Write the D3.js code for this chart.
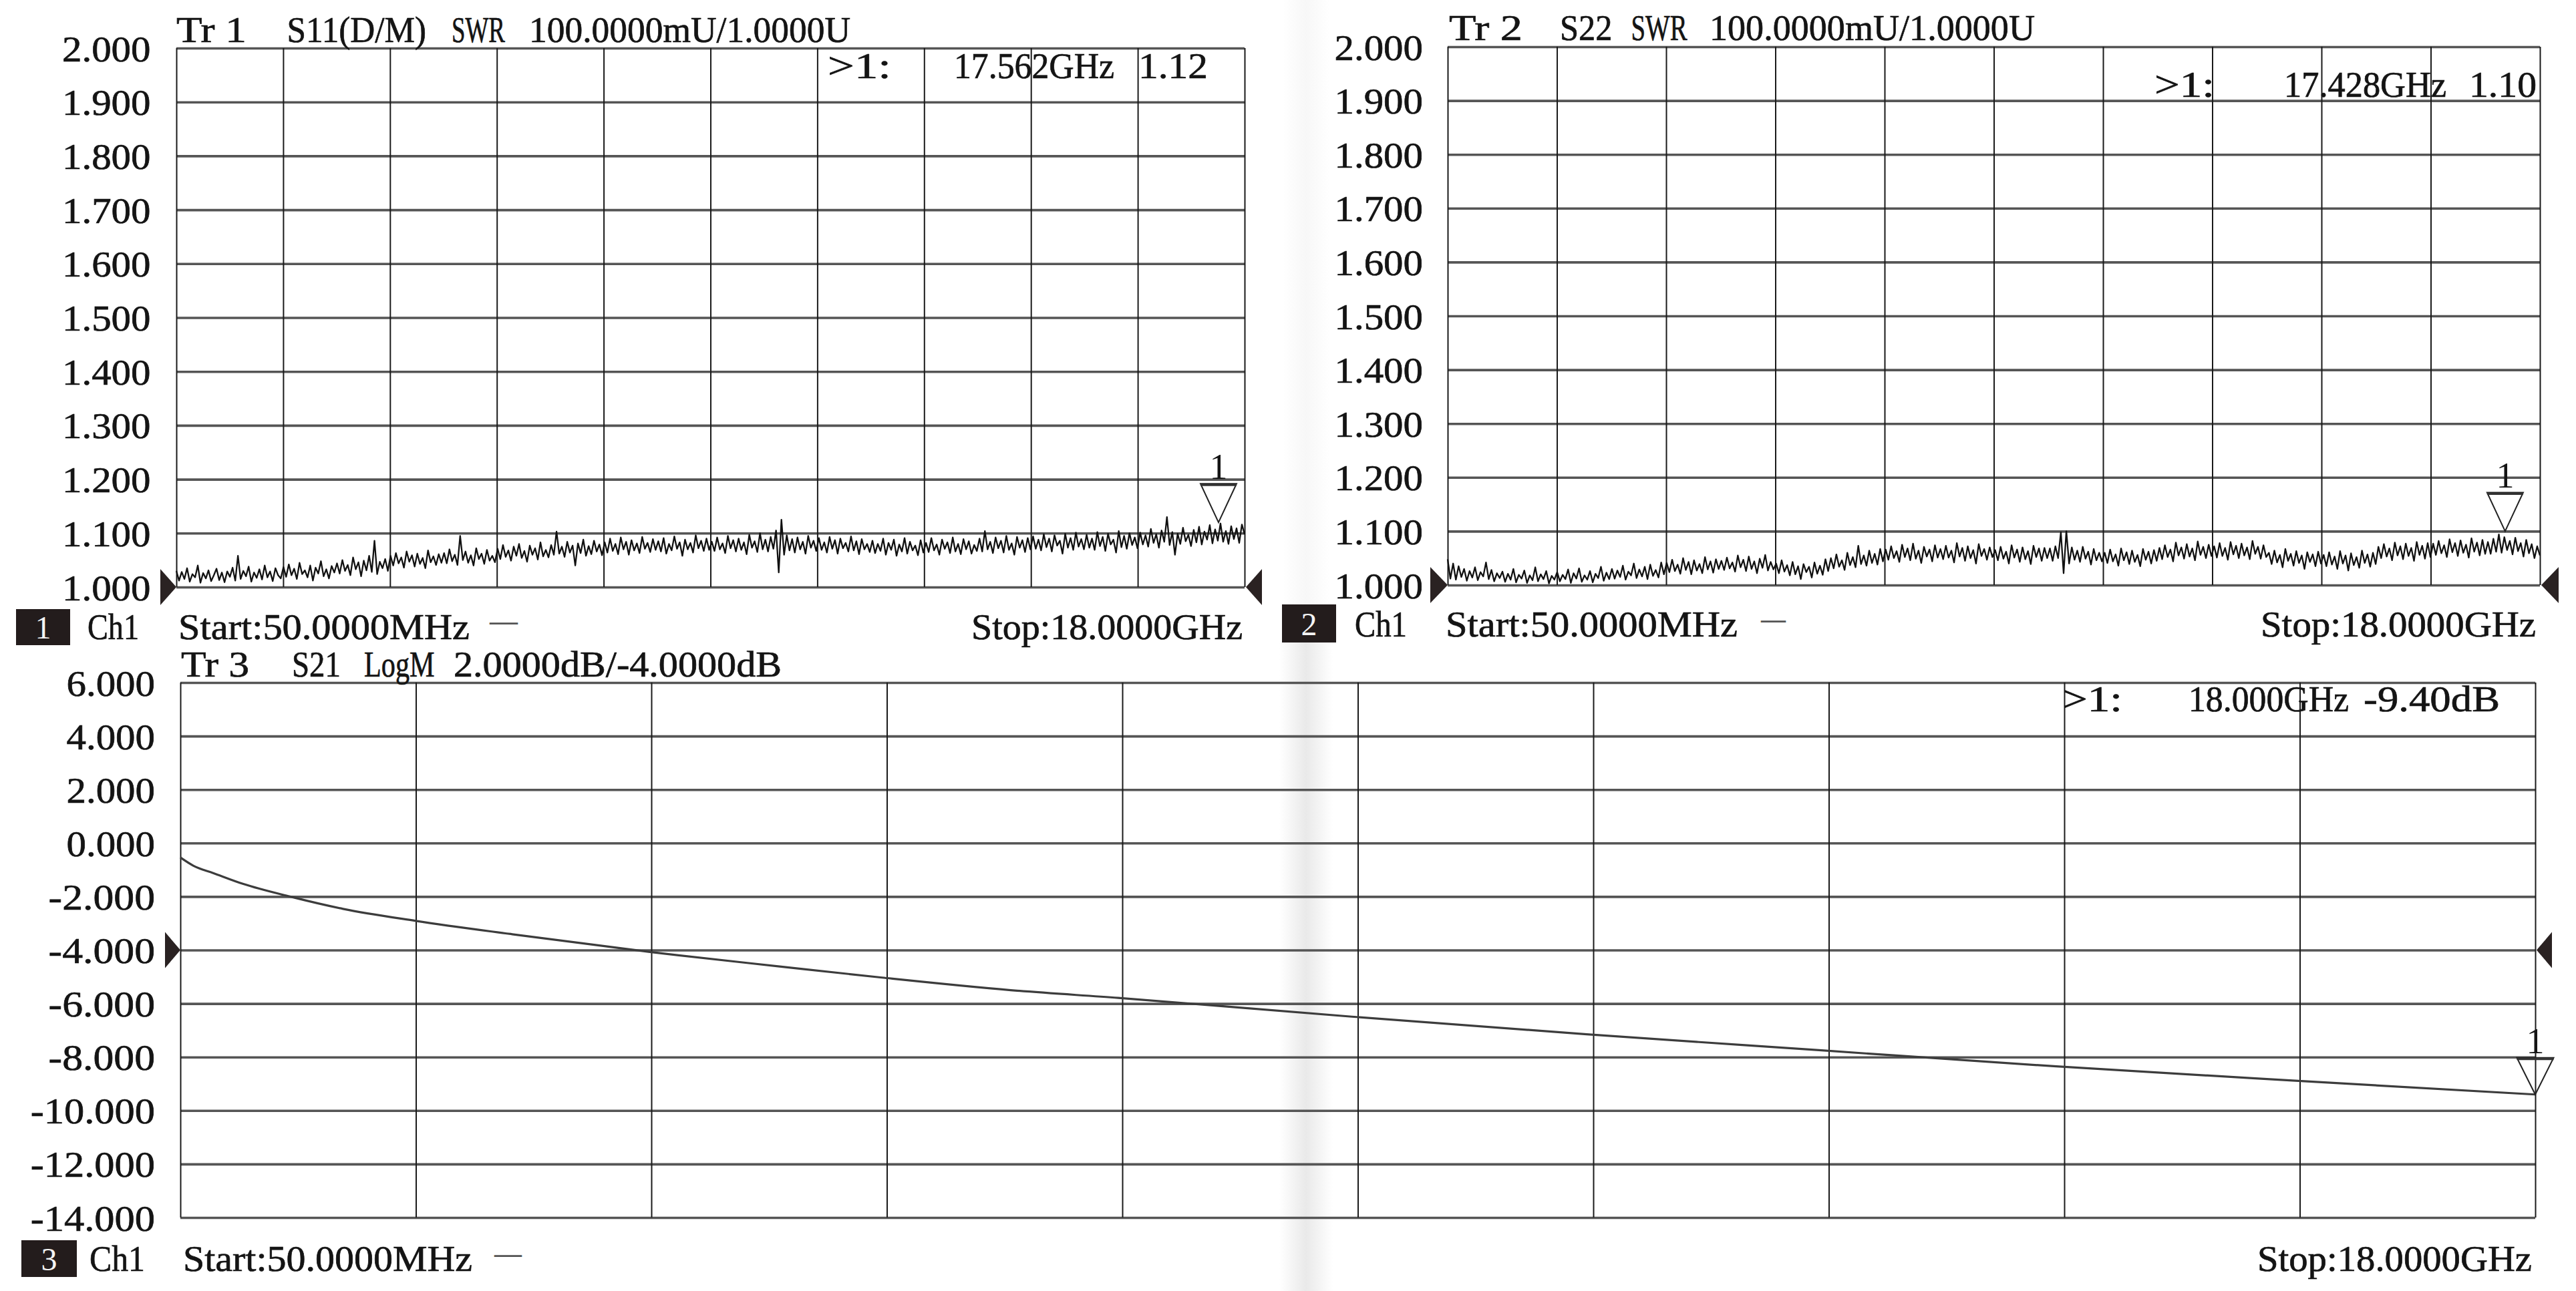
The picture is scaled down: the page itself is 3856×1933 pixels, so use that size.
<!DOCTYPE html>
<html><head><meta charset="utf-8">
<script src="https://cdn.jsdelivr.net/npm/d3@7"></script>
<style>html,body{margin:0;padding:0;background:#fff;}svg{display:block;}</style>
</head><body>
<svg id="chart" width="3856" height="1933"></svg>
<script>
// ---------------- DATA ----------------
const sweepStartGHz = 0.05;
const sweepStopGHz = 18.0;
const gridDivisions = 10;
const swrTickValues = [2.0, 1.9, 1.8, 1.7, 1.6, 1.5, 1.4, 1.3, 1.2, 1.1, 1.0];
const s21TickValues = [6, 4, 2, 0, -2, -4, -6, -8, -10, -12, -14];

// S11 SWR (Tr 1), evenly spaced sweep points
const s11Values = [
1.030,1.012,1.028,1.015,1.035,1.010,1.024,1.018,1.040,1.008,1.026,1.016,1.031,1.011,1.022,1.034,1.013,1.027,1.009,1.029,
1.019,1.036,1.012,1.058,1.015,1.030,1.020,1.038,1.010,1.027,1.017,1.033,1.014,1.040,1.018,1.029,1.011,1.035,1.022,1.016,
1.037,1.019,1.042,1.022,1.034,1.015,1.045,1.024,1.031,1.018,1.040,1.012,1.036,1.025,1.048,1.020,1.033,1.016,1.039,1.027,
1.044,1.025,1.050,1.030,1.041,1.022,1.055,1.033,1.046,1.020,1.049,1.031,1.058,1.028,1.086,1.024,1.047,1.035,1.052,1.030,
1.058,1.040,1.063,1.044,1.055,1.036,1.066,1.047,1.059,1.038,1.062,1.043,1.054,1.035,1.068,1.046,1.057,1.041,1.061,1.045,
1.063,1.044,1.070,1.048,1.060,1.041,1.095,1.050,1.066,1.045,1.059,1.040,1.072,1.052,1.062,1.043,1.069,1.049,1.058,1.046,
1.071,1.052,1.078,1.056,1.068,1.049,1.075,1.058,1.080,1.054,1.067,1.047,1.077,1.060,1.072,1.051,1.083,1.057,1.069,1.055,
1.078,1.060,1.103,1.062,1.075,1.056,1.084,1.064,1.077,1.040,1.081,1.063,1.088,1.058,1.076,1.061,1.086,1.066,1.079,1.059,
1.083,1.064,1.090,1.067,1.080,1.061,1.092,1.070,1.084,1.060,1.087,1.068,1.081,1.063,1.093,1.071,1.082,1.065,1.089,1.069,
1.085,1.066,1.091,1.062,1.080,1.068,1.094,1.071,1.083,1.058,1.088,1.070,1.082,1.064,1.096,1.072,1.086,1.067,1.090,1.069,
1.084,1.067,1.092,1.070,1.081,1.063,1.095,1.072,1.087,1.066,1.090,1.069,1.083,1.061,1.097,1.073,1.085,1.065,1.100,1.070,
1.088,1.066,1.093,1.071,1.105,1.027,1.125,1.060,1.096,1.068,1.089,1.064,1.092,1.070,1.084,1.062,1.095,1.073,1.086,1.067,
1.091,1.069,1.083,1.064,1.093,1.071,1.087,1.062,1.090,1.072,1.082,1.066,1.094,1.068,1.085,1.061,1.089,1.070,1.080,1.065,
1.086,1.063,1.080,1.067,1.090,1.060,1.082,1.069,1.088,1.058,1.079,1.066,1.091,1.062,1.084,1.068,1.077,1.059,1.087,1.064,
1.082,1.065,1.091,1.068,1.079,1.060,1.088,1.071,1.083,1.063,1.092,1.066,1.080,1.061,1.089,1.070,1.085,1.062,1.078,1.067,
1.090,1.066,1.104,1.070,1.084,1.063,1.092,1.072,1.086,1.064,1.095,1.069,1.081,1.060,1.093,1.073,1.087,1.065,1.091,1.070,
1.094,1.071,1.088,1.068,1.098,1.074,1.090,1.066,1.096,1.077,1.086,1.062,1.099,1.073,1.091,1.069,1.101,1.075,1.089,1.070,
1.097,1.073,1.090,1.069,1.102,1.076,1.093,1.067,1.099,1.079,1.088,1.064,1.104,1.074,1.095,1.071,1.100,1.078,1.092,1.072,
1.101,1.079,1.096,1.075,1.108,1.082,1.098,1.073,1.105,1.084,1.130,1.078,1.102,1.060,1.099,1.080,1.110,1.085,1.097,1.076,
1.106,1.083,1.112,1.079,1.103,1.088,1.115,1.081,1.107,1.086,1.118,1.084,1.104,1.080,1.113,1.089,1.109,1.082,1.116,1.098
];

// S22 SWR (Tr 2)
const s22Values = [
1.048,1.012,1.040,1.010,1.035,1.015,1.030,1.008,1.026,1.014,1.033,1.009,1.024,1.016,1.042,1.011,1.028,1.007,1.022,1.013,
1.025,1.006,1.021,1.010,1.030,1.005,1.019,1.012,1.027,1.004,1.018,1.009,1.033,1.007,1.020,1.011,1.026,1.003,1.017,1.010,
1.024,1.007,1.019,1.011,1.029,1.004,1.022,1.012,1.031,1.006,1.018,1.010,1.026,1.005,1.021,1.013,1.034,1.008,1.023,1.011,
1.030,1.012,1.027,1.015,1.036,1.010,1.025,1.018,1.040,1.013,1.029,1.016,1.034,1.011,1.038,1.017,1.028,1.014,1.042,1.020,
1.041,1.024,1.047,1.026,1.038,1.021,1.050,1.028,1.043,1.020,1.046,1.027,1.039,1.022,1.052,1.029,1.044,1.023,1.048,1.030,
1.045,1.028,1.051,1.031,1.042,1.025,1.055,1.033,1.047,1.026,1.053,1.030,1.044,1.022,1.049,1.032,1.056,1.027,1.043,1.029,
1.040,1.022,1.046,1.025,1.037,1.018,1.043,1.020,1.035,1.011,1.039,1.024,1.034,1.014,1.042,1.021,1.036,1.019,1.048,1.026,
1.050,1.031,1.057,1.034,1.046,1.028,1.060,1.037,1.052,1.033,1.073,1.039,1.055,1.036,1.064,1.041,1.058,1.038,1.067,1.044,
1.066,1.047,1.072,1.050,1.063,1.043,1.075,1.052,1.068,1.046,1.077,1.049,1.064,1.041,1.071,1.053,1.066,1.044,1.074,1.051,
1.067,1.048,1.073,1.051,1.064,1.042,1.078,1.053,1.069,1.045,1.072,1.050,1.065,1.040,1.076,1.054,1.067,1.047,1.070,1.052,
1.065,1.046,1.071,1.049,1.062,1.040,1.074,1.051,1.066,1.043,1.070,1.048,1.063,1.039,1.073,1.052,1.068,1.045,1.069,1.050,
1.068,1.045,1.072,1.050,1.098,1.022,1.100,1.040,1.070,1.047,1.064,1.043,1.071,1.049,1.062,1.038,1.067,1.046,1.060,1.044,
1.060,1.041,1.066,1.044,1.057,1.036,1.068,1.046,1.061,1.039,1.064,1.043,1.056,1.035,1.067,1.047,1.062,1.040,1.065,1.045,
1.069,1.048,1.074,1.052,1.066,1.044,1.079,1.055,1.070,1.049,1.076,1.053,1.068,1.046,1.081,1.056,1.071,1.050,1.075,1.054,
1.072,1.051,1.078,1.054,1.069,1.047,1.080,1.057,1.073,1.050,1.077,1.055,1.070,1.048,1.082,1.058,1.071,1.049,1.074,1.052,
1.060,1.039,1.064,1.042,1.056,1.033,1.067,1.045,1.058,1.036,1.063,1.041,1.055,1.030,1.061,1.043,1.057,1.035,1.062,1.040,
1.056,1.035,1.061,1.038,1.053,1.030,1.063,1.040,1.055,1.027,1.059,1.037,1.052,1.032,1.064,1.041,1.057,1.034,1.060,1.039,
1.071,1.050,1.076,1.053,1.068,1.046,1.079,1.055,1.072,1.048,1.077,1.054,1.069,1.045,1.080,1.056,1.073,1.049,1.078,1.052,
1.077,1.056,1.082,1.059,1.074,1.052,1.085,1.061,1.078,1.054,1.083,1.060,1.075,1.051,1.087,1.062,1.079,1.055,1.084,1.058,
1.080,1.058,1.086,1.062,1.094,1.060,1.089,1.065,1.082,1.057,1.088,1.063,1.078,1.053,1.084,1.059,1.076,1.050,1.072,1.055
];

// S21 LogM (Tr 3), dB
const s21FreqGHz = [0.05, 0.15, 0.30, 0.53, 0.885, 1.29, 1.845, 2.58, 3.64, 4.63, 5.40, 6.38, 7.20, 8.98, 10.77, 12.56, 14.35, 16.15, 18.0];
const s21ValuesDb = [-0.54, -0.85, -1.12, -1.53, -2.00, -2.46, -2.91, -3.41, -4.08, -4.62, -5.03, -5.50, -5.79, -6.49, -7.15, -7.75, -8.35, -8.88, -9.40];

const markerFreqGHz = [17.562, 17.428, 18.000];
const markerValues = [1.12, 1.10, -9.40];
const markerReadouts = [["17.562GHz", "1.12"], ["17.428GHz", "1.10"], ["18.000GHz", "-9.40dB"]];
const referenceValues = [1.0, 1.0, -4.0];
const titleTexts = [
  ["Tr 1", "S11(D/M)", "SWR", "100.0000mU/1.0000U"],
  ["Tr 2", "S22", "SWR", "100.0000mU/1.0000U"],
  ["Tr 3", "S21", "LogM", "2.0000dB/-4.0000dB"]
];
const channelLabel = "Ch1";
const startLabel = "Start:50.0000MHz";
const stopLabel = "Stop:18.0000GHz";

// ---------------- LAYOUT ----------------
const FONT = "'Liberation Serif','Times New Roman',serif";
const FS = 54;
const INK = "#141414";
const PITCH = 26.9;

const panels = [
  { left: 264, right: 1863, top: 72, bottom: 879, yDomain: [1, 2], ticks: swrTickValues, values: s11Values,
    labelRight: 225.5, titleY: 63, titleX: [[264, 369], [429.5, 638], [676, 756], [792, 1273]],
    mkY: 117, mkX: [[1239, 1334], [1428, 1668], [1704, 1808]], mkW: 54, mkH: 58,
    footY: 957, box: [24, 912, 81, 54], chX: [131, 208], startX: [267, 703], dash: [733, 775, 933], stopX: [1454, 1860], arrowW: 24 },
  { left: 2167, right: 3802, top: 70, bottom: 876, yDomain: [1, 2], ticks: swrTickValues, values: s22Values,
    labelRight: 2130, titleY: 60, titleX: [[2169, 2279], [2335, 2413.5], [2441.5, 2525.5], [2559, 3046]],
    mkY: 145, mkX: [[3225, 3315], [3419, 3662], [3696, 3797]], mkW: 54, mkH: 58,
    footY: 953, box: [1919, 905, 81, 57], chX: [2028, 2106], startX: [2164, 2601], dash: [2636, 2673, 930], stopX: [3384, 3796], arrowW: 26 },
  { left: 270, right: 3795, top: 1022, bottom: 1823, yDomain: [-14, 6], ticks: s21TickValues, values: null,
    labelRight: 232, titleY: 1013, titleX: [[271, 373], [437, 510], [545, 650.5], [679, 1170]],
    mkY: 1065, mkX: [[3087, 3177], [3276, 3516], [3538, 3742]], mkW: 55, mkH: 55,
    footY: 1903, box: [32, 1857, 83, 55], chX: [134, 217], startX: [274, 707], dash: [740, 781, 1880], stopX: [3379, 3790], arrowW: 23 }
];

const svg = d3.select("#chart");
svg.append("rect").attr("width", 3856).attr("height", 1933).attr("fill", "#fff");

// faint paper crease from the scan (mostly visible in the lower half)
const defs = svg.append("defs");
const lg = defs.append("linearGradient").attr("id", "crease").attr("x1", 0).attr("x2", 1).attr("y1", 0).attr("y2", 0);
lg.append("stop").attr("offset", 0).attr("stop-color", "#e2e2e2").attr("stop-opacity", 0);
lg.append("stop").attr("offset", 0.5).attr("stop-color", "#e2e2e2").attr("stop-opacity", 0.75);
lg.append("stop").attr("offset", 1).attr("stop-color", "#e2e2e2").attr("stop-opacity", 0);
svg.append("rect").attr("x", 1915).attr("y", 960).attr("width", 80).attr("height", 973).attr("fill", "url(#crease)");
svg.append("rect").attr("x", 1920).attr("y", 0).attr("width", 70).attr("height", 960).attr("fill", "url(#crease)").attr("opacity", 0.35);

const fmt = d => d3.format(".3f")(d).replace("\u2212", "-");

function addText(parent, s, x0, x1, y) {
  const t = parent.append("text").attr("x", x0).attr("y", y).text(s)
    .attr("font-family", FONT).attr("font-size", FS).attr("fill", INK)
    .attr("stroke", INK).attr("stroke-width", 0.7);
  if (x1 != null) t.attr("textLength", x1 - x0).attr("lengthAdjust", "spacingAndGlyphs");
  return t;
}

panels.forEach((p, pi) => {
  const g = svg.append("g");
  const x = d3.scaleLinear().domain([sweepStartGHz, sweepStopGHz]).range([p.left, p.right]);
  const y = d3.scaleLinear().domain(p.yDomain).range([p.bottom, p.top]);
  const xGrid = d3.range(gridDivisions + 1).map(k => sweepStartGHz + k * (sweepStopGHz - sweepStartGHz) / gridDivisions);

  // horizontal grid
  g.append("g").attr("transform", `translate(${p.left},0)`)
    .call(d3.axisLeft(y).tickValues(p.ticks).tickSize(-(p.right - p.left)).tickFormat(""))
    .call(a => a.select(".domain").remove())
    .selectAll("line").attr("stroke", "#555").attr("stroke-width", 3.6);
  // vertical grid
  g.append("g").attr("transform", `translate(0,${p.bottom})`)
    .call(d3.axisBottom(x).tickValues(xGrid).tickSize(-(p.bottom - p.top)).tickFormat(""))
    .call(a => a.select(".domain").remove())
    .selectAll("line").attr("stroke", "#1a1a1a").attr("stroke-width", 2);

  // y labels
  const ya = g.append("g").attr("transform", `translate(${p.labelRight},0)`)
    .call(d3.axisLeft(y).tickValues(p.ticks).tickSize(0).tickPadding(0).tickFormat(fmt));
  ya.select(".domain").remove();
  ya.selectAll("text").attr("font-family", FONT).attr("font-size", FS).attr("fill", INK)
    .attr("stroke", INK).attr("stroke-width", 0.7)
    .attr("dy", null).attr("y", 19).attr("x", 0).attr("text-anchor", "end")
    .each(function (d) { const s = fmt(d); d3.select(this).attr("textLength", s.length * PITCH - 2).attr("lengthAdjust", "spacingAndGlyphs"); });

  // trace
  if (p.values) {
    const n = p.values.length;
    const freqs = p.values.map((_, i) => sweepStartGHz + i * (sweepStopGHz - sweepStartGHz) / (n - 1));
    g.append("path").datum(p.values)
      .attr("d", d3.line().x((d, i) => x(freqs[i])).y(d => y(d)))
      .attr("fill", "none").attr("stroke", "#111").attr("stroke-width", 2.3).attr("stroke-linejoin", "round");
  } else {
    g.append("path").datum(s21ValuesDb)
      .attr("d", d3.line().x((d, i) => x(s21FreqGHz[i])).y(d => y(d)).curve(d3.curveMonotoneX))
      .attr("fill", "none").attr("stroke", "#3c3c3c").attr("stroke-width", 3.2);
  }

  // title
  const tt = g.append("text").attr("y", p.titleY).attr("font-family", FONT).attr("font-size", FS)
    .attr("fill", INK).attr("stroke", INK).attr("stroke-width", 0.7);
  titleTexts[pi].forEach((s, i) => {
    if (i > 0) tt.node().appendChild(document.createTextNode(" "));
    tt.append("tspan").attr("x", p.titleX[i][0]).attr("textLength", p.titleX[i][1] - p.titleX[i][0])
      .attr("lengthAdjust", "spacingAndGlyphs").text(s);
  });

  // marker readout
  const mk = g.append("text").attr("y", p.mkY).attr("font-family", FONT).attr("font-size", FS)
    .attr("fill", INK).attr("stroke", INK).attr("stroke-width", 0.7);
  [">1:", markerReadouts[pi][0], markerReadouts[pi][1]].forEach((s, i) => {
    if (i > 0) mk.node().appendChild(document.createTextNode(" "));
    mk.append("tspan").attr("x", p.mkX[i][0]).attr("textLength", p.mkX[i][1] - p.mkX[i][0])
      .attr("lengthAdjust", "spacingAndGlyphs").text(s);
  });

  // marker triangle
  const mx = x(markerFreqGHz[pi]), my = y(markerValues[pi]);
  const w = p.mkW, h = p.mkH;
  g.append("path").attr("d", `M${mx},${my}L${mx - w / 2},${my - h}L${mx + w / 2},${my - h}Z`)
    .attr("fill", "none").attr("stroke", "#222").attr("stroke-width", 2);
  g.append("line").attr("x1", mx - w / 2).attr("x2", mx + w / 2).attr("y1", my - h + 2).attr("y2", my - h + 2)
    .attr("stroke", "#333").attr("stroke-width", 3);
  g.append("text").attr("x", mx).attr("y", my - h - 7).attr("text-anchor", "middle")
    .attr("font-family", FONT).attr("font-size", FS).attr("fill", INK).text("1");

  // reference arrows
  const ry = y(referenceValues[pi]);
  const aw = p.arrowW, ah = 27;
  g.append("path").attr("d", `M${p.left},${ry}L${p.left - aw},${ry - ah}L${p.left - aw},${ry + ah}Z`).attr("fill", "#2a2222");
  g.append("path").attr("d", `M${p.right + 2},${ry}L${p.right + 2 + aw},${ry - ah}L${p.right + 2 + aw},${ry + ah}Z`).attr("fill", "#2a2222");

  // footer
  const b = p.box;
  g.append("rect").attr("x", b[0]).attr("y", b[1]).attr("width", b[2]).attr("height", b[3]).attr("fill", "#231c1c");
  g.append("text").attr("x", b[0] + b[2] / 2).attr("y", b[1] + b[3] / 2 + 17).attr("text-anchor", "middle")
    .attr("font-family", FONT).attr("font-size", 48).attr("fill", "#f4f4f4").text(String(pi + 1));
  addText(g, channelLabel, p.chX[0], p.chX[1], p.footY);
  addText(g, startLabel, p.startX[0], p.startX[1], p.footY);
  addText(g, "\u2014", p.dash[0], p.dash[1], p.dash[2] + 13).attr("fill", "#555").attr("stroke", "none");
  addText(g, stopLabel, p.stopX[0], p.stopX[1], p.footY);
});
</script>
</body></html>
